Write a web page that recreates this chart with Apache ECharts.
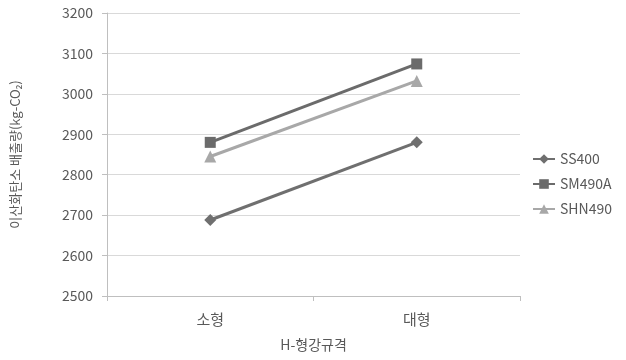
<!DOCTYPE html>
<html>
<head>
<meta charset="utf-8">
<script src="https://cdn.jsdelivr.net/npm/echarts@6/dist/echarts.min.js"></script>
<style>
  html, body { margin: 0; padding: 0; background: #fff; }
  #chart { width: 626px; height: 360px; }
</style>
</head>
<body>
<div id="chart"></div>
<script>
// H-beam size categories and CO2 emission per steel grade
const categories = ['소형', '대형'];
const ss400 = [2688, 2880];
const sm490a = [2880, 3074];
const shn490 = [2845, 3032];
const seriesNames = ['SS400', 'SM490A', 'SHN490'];
const yTicks = { min: 2500, max: 3200, interval: 100 };

const font = '"Noto Sans CJK KR", "Noto Sans", sans-serif';
const labelColor = '#595959';

function lineSeries(name, data, symbol, size, color) {
  return {
    name: name,
    type: 'line',
    data: data,
    symbol: symbol,
    symbolSize: size,
    showSymbol: true,
    lineStyle: { color: color, width: 3 },
    itemStyle: { color: color },
    emphasis: { disabled: true },
    animation: false
  };
}

const chart = echarts.init(document.getElementById('chart'), null, { renderer: 'canvas' });
chart.setOption({
  backgroundColor: '#ffffff',
  animation: false,
  grid: { left: 107, right: 106, top: 13, height: 283, containLabel: false },
  legend: {
    orient: 'vertical',
    left: 527,
    top: 147,
    itemGap: 11,
    itemWidth: 22,
    itemHeight: 12,
    textStyle: { fontFamily: font, fontSize: 14, color: labelColor },
    data: seriesNames
  },
  xAxis: {
    type: 'category',
    data: categories,
    boundaryGap: true,
    name: 'H-형강규격',
    nameLocation: 'middle',
    nameGap: 42,
    nameTextStyle: { fontFamily: font, fontSize: 14, color: labelColor },
    axisLine: { lineStyle: { color: '#bfbfbf', width: 1 } },
    axisTick: { show: true, length: 5, lineStyle: { color: '#bfbfbf' } },
    axisLabel: { fontFamily: font, fontSize: 15, color: labelColor, margin: 16 }
  },
  yAxis: {
    type: 'value',
    min: yTicks.min,
    max: yTicks.max,
    interval: yTicks.interval,
    name: '이산화탄소 배출량(kg-CO₂)',
    nameLocation: 'middle',
    nameRotate: 90,
    nameGap: 85,
    nameTextStyle: { fontFamily: font, fontSize: 13, color: labelColor },
    axisLine: { show: true, lineStyle: { color: '#bfbfbf', width: 1 } },
    axisTick: { show: true, length: 5, lineStyle: { color: '#bfbfbf' } },
    axisLabel: {
      fontFamily: font, fontSize: 14, color: labelColor, margin: 14,
      formatter: function (v) { return String(v); }
    },
    splitLine: { show: true, lineStyle: { color: '#d9d9d9', width: 1 } }
  },
  series: [
    lineSeries(seriesNames[0], ss400, 'diamond', 12, '#6f6f6f'),
    lineSeries(seriesNames[1], sm490a, 'rect', 11, '#6b6b6b'),
    lineSeries(seriesNames[2], shn490, 'triangle', 12, '#a8a8a8')
  ]
});
</script>
</body>
</html>
